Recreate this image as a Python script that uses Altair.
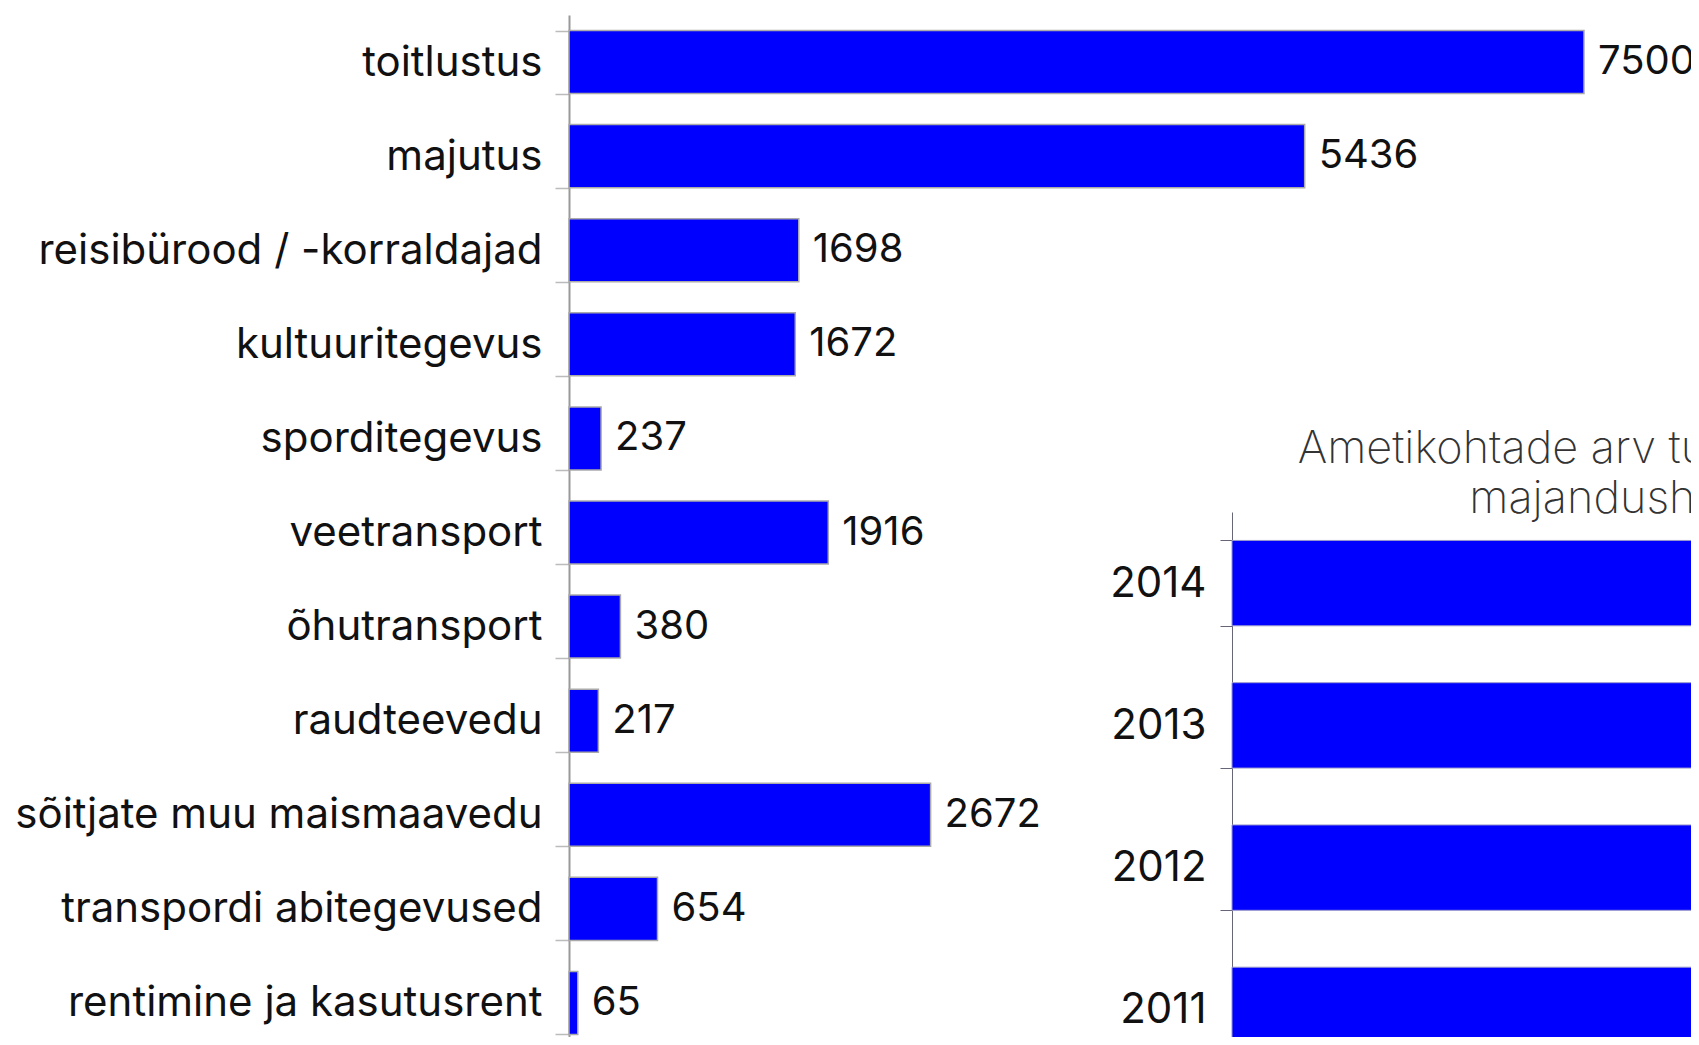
import altair as alt
import pandas as pd

categories = ["toitlustus", "majutus", "reisibürood / -korraldajad", "kultuuritegevus",
              "sporditegevus", "veetransport", "õhutransport", "raudteevedu",
              "sõitjate muu maismaavedu", "transpordi abitegevused", "rentimine ja kasutusrent"]
values = [7500, 5436, 1698, 1672, 237, 1916, 380, 217, 2672, 654, 65]

years = ["2014", "2013", "2012", "2011"]
year_values = [22447, 21600, 20900, 20300]

title_lines = ["Ametikohtade arv turismiga seotud", "majandusharudes"]

FONT = "Inter"
FS = 42

left_df = pd.DataFrame({"haru": categories, "arv": values})
right_df = pd.DataFrame({"aasta": years, "kokku": year_values})

left_y = alt.Y("haru:N", sort=categories,
               scale=alt.Scale(range=[0, 1035], paddingInner=0.33, paddingOuter=0.165),
               axis=alt.Axis(title=None, orient="left", tickBand="extent", tickSize=14,
                             labelPadding=13, labelFontSize=FS, labelFont=FONT,
                             labelColor="#111", domainColor="#999", tickColor="#bbb",
                             domainWidth=2, tickWidth=1.5, labelLimit=0))
left_x = alt.X("arv:Q", scale=alt.Scale(domain=[0, 7500], range=[0, 1015]), axis=None)

left_bars = alt.Chart(left_df).mark_bar(color="#0000FF", stroke="#aaaaaa", strokeWidth=1.5).encode(
    x=left_x, y=left_y)
left_text = alt.Chart(left_df).mark_text(align="left", baseline="middle", dx=14, fontSize=40,
                                          font=FONT, color="#111").encode(
    x=left_x, y=alt.Y("haru:N", sort=categories), text="arv:Q")

right_y = alt.Y("aasta:N", sort=years,
                scale=alt.Scale(range=[497, 1066], paddingInner=0.4, paddingOuter=0.2),
                axis=alt.Axis(title=None, orient="left", offset=-663, tickBand="extent",
                              tickSize=12, labelPadding=14, labelFontSize=FS, labelFont=FONT,
                              labelColor="#111", domainColor="#667", tickColor="#667",
                              domainWidth=1, tickWidth=1))
right_x = alt.X("kokku:Q", scale=alt.Scale(domain=[0, 25000], range=[663, 1763]), axis=None)

right_bars = alt.Chart(right_df).mark_bar(color="#0000FF", stroke="#9999cc", strokeWidth=1).encode(
    x=right_x, y=right_y)

left = alt.layer(left_bars, left_text)

chart = alt.layer(left, right_bars).resolve_scale(x="independent", y="independent").resolve_axis(
    y="independent").properties(
    width=1122, height=1022,
    autosize=alt.AutoSizeParams(type="none"),
    padding={"left": 561, "top": 7, "right": 0, "bottom": 0},
    title=alt.TitleParams(text=title_lines, anchor="start", align="center", frame="group",
                          dx=1084, dy=528, offset=0, baseline="top", fontSize=45,
                          fontWeight=200, font=FONT, color="#333", lineHeight=50),
).configure_view(strokeWidth=0)

chart.save("out.html", embed_options={"renderer": "svg", "actions": False})
